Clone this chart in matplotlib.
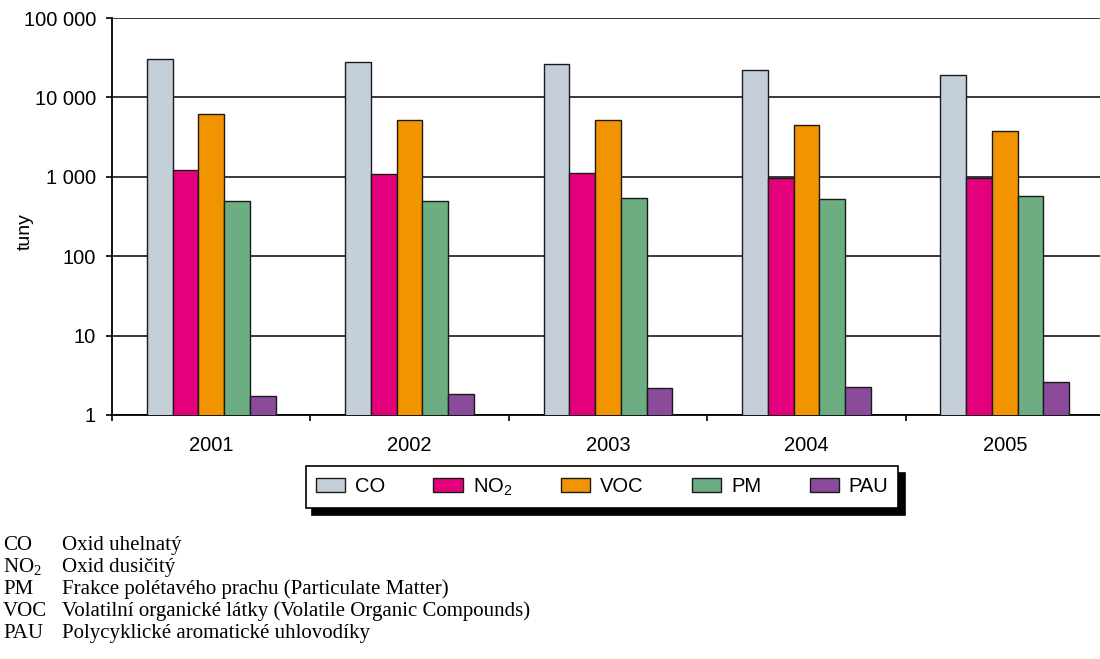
import matplotlib
matplotlib.use("Agg")
import matplotlib.pyplot as plt
import numpy as np
from matplotlib.ticker import FixedLocator, FuncFormatter

years = ["2001", "2002", "2003", "2004", "2005"]
series_names = ["CO", r"$\mathregular{NO_2}$", "VOC", "PM", "PAU"]
CO = [30100, 27600, 26500, 22000, 19200]
NO2 = [1230, 1070, 1120, 975, 965]
VOC = [6260, 5200, 5200, 4550, 3780]
PM = [500, 500, 545, 519, 566]
PAU = [1.74, 1.86, 2.19, 2.28, 2.63]
colors = ["#c4cfda", "#e4007c", "#f29400", "#6cae82", "#8c4a9a"]
y_ticks = [1, 10, 100, 1000, 10000, 100000]

notes_abbr = ["CO", r"$\mathregular{NO_2}$", "PM", "VOC", "PAU"]
notes_text = ["Oxid uhelnatý", "Oxid dusičitý",
              "Frakce polétavého prachu (Particulate Matter)",
              "Volatilní organické látky (Volatile Organic Compounds)",
              "Polycyklické aromatické uhlovodíky"]

plt.rcParams['font.family'] = ['Liberation Sans', 'DejaVu Sans']

W, H = 1100, 659
fig = plt.figure(figsize=(11, 6.59), dpi=100)
ax = fig.add_axes([112 / W, 1 - 415 / H, 992 / W, 397 / H])

x = np.arange(len(years))
bw = 0.13
data = [CO, NO2, VOC, PM, PAU]
for i, (vals, name, c) in enumerate(zip(data, series_names, colors)):
    ax.bar(x + (i - 2) * bw, vals, width=bw, color=c, edgecolor="#1a1a1a",
           linewidth=1.0, label=name, zorder=3)

ax.set_yscale("log")
ax.set_ylim(1, 100000)
ax.set_xlim(-0.5, 4.5)
ax.yaxis.set_major_locator(FixedLocator(y_ticks))
ax.yaxis.set_minor_locator(FixedLocator([]))
ax.yaxis.set_major_formatter(FuncFormatter(lambda v, p: f"{int(round(v)):,}".replace(",", " ")))
ax.grid(axis="y", which="major", color="#2a2a2a", linewidth=1.3, zorder=0)
ax.set_axisbelow(True)

ax.set_xticks(x)
ax.set_xticklabels(years)
ax.set_xticks(np.arange(-0.5, 5.0, 1.0), minor=True)
ax.tick_params(axis="x", which="major", length=0, pad=15, labelsize=14.5)
ax.tick_params(axis="x", which="minor", length=4, width=1.2, direction="out")
ax.tick_params(axis="y", which="major", length=4.5, width=1.2, direction="out",
               pad=7, labelsize=14.5)

for s in ["top", "right"]:
    ax.spines[s].set_visible(False)
for s in ["left", "bottom"]:
    ax.spines[s].set_linewidth(1.3)
    ax.spines[s].set_color("black")

fig.text(25 / W, 1 - 232 / H, "tuny", rotation=90, ha="center", va="center",
         fontsize=14)

handles, labels = ax.get_legend_handles_labels()
leg = fig.legend(handles, labels, loc="center", bbox_to_anchor=(602 / W, 1 - 487 / H),
                 ncol=5, fontsize=14.5, frameon=True, fancybox=False,
                 edgecolor="black", handlelength=1.45, handleheight=0.72,
                 handletextpad=0.5, columnspacing=2.4, borderpad=0.5,
                 shadow={'ox': 4.5, 'oy': -5, 'facecolor': 'black',
                         'edgecolor': 'black', 'alpha': 1})
leg.get_frame().set_linewidth(1.2)

serif = ['Liberation Serif', 'DejaVu Serif']
for k, (a, t) in enumerate(zip(notes_abbr, notes_text)):
    yb = 1 - (550 + 22 * k) / H
    fig.text(3 / W, yb, a, family=serif, fontsize=15, va="baseline", ha="left")
    fig.text(62 / W, yb, t, family=serif, fontsize=15, va="baseline", ha="left")

fig.savefig("out.png", dpi=100)
